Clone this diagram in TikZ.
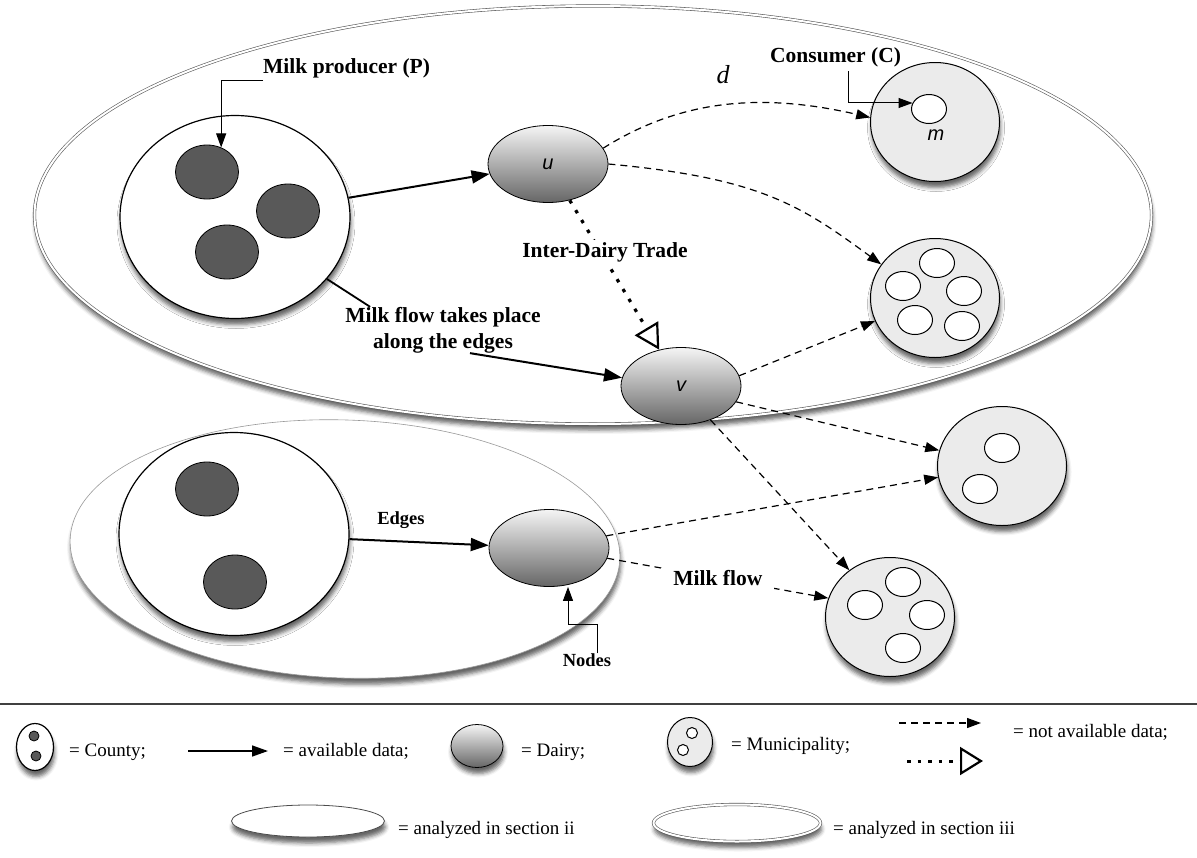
\documentclass[tikz,border=0pt]{standalone}
\usepackage{fontspec}
\setmainfont{Liberation Serif}
\newfontfamily\nodefont{Liberation Sans}
\usetikzlibrary{positioning,shapes.geometric,arrows.meta,shadows.blur}

\tikzset{
  soft/.style={blur shadow={shadow xshift=1pt,shadow yshift=-6pt,shadow blur radius=4pt,shadow opacity=60}},
  county/.style={ellipse,draw,line width=1.2pt,fill=white,minimum width=230pt,minimum height=203pt,inner sep=0pt,soft},
  producer/.style={ellipse,draw,line width=0.8pt,fill=black!65,minimum width=63pt,minimum height=54pt,inner sep=0pt},
  dairy/.style={ellipse,draw,line width=0.8pt,top color=black!4,bottom color=black!60,minimum width=120pt,minimum height=77pt,inner sep=0pt,font=\nodefont\itshape\fontsize{20}{24}\selectfont},
  muni/.style={ellipse,draw,line width=1pt,fill=black!8,minimum width=129pt,minimum height=119pt,inner sep=0pt,soft},
  cons/.style={ellipse,draw,line width=1pt,fill=white,minimum width=35pt,minimum height=29pt,inner sep=0pt},
  lbl/.style={font=\bfseries\fontsize{21.5}{26}\selectfont,inner sep=0pt},
  small lbl/.style={font=\bfseries\fontsize{18.5}{22}\selectfont,inner sep=0pt},
  legend/.style={font=\fontsize{19}{23}\selectfont,anchor=base west,inner sep=0pt},
  flow/.style={line width=2pt,-{Triangle[length=18pt,width=13pt]}},
  lead/.style={line width=1pt,-{Triangle[length=14pt,width=10pt]}},
  nodata/.style={line width=1.2pt,dash pattern=on 7pt off 5pt,-{Triangle[length=14pt,width=10pt]}},
  trade/.style={line width=3.2pt,dash pattern=on 3.5pt off 8pt,-{Triangle[open,length=25pt,width=27pt,line width=2.2pt]}},
  section two/.style={ellipse,draw=black!40,line width=0.6pt,fill=white,soft},
  section three/.style={ellipse,draw=black!65,line width=0.6pt,double=white,double distance=2pt,fill=white,soft}
}

\begin{document}
\begin{tikzpicture}[x=1pt,y=-1pt]
\useasboundingbox (0,0) rectangle (1197,857);

\node[section three,minimum width=1117pt,minimum height=418pt] (secthree) at (593,215) {};
\node[section two,minimum width=550pt,minimum height=258pt,rotate=-2] (sectwo) at (345,549) {};

\node[county] (ucounty) at (235,217) {};
\node[producer] (p1) at (207,172) {};
\node[producer] (p2) at (288,211) {};
\node[producer] (p3) at (227,252) {};

\node[county] (lcounty) at (234,534) {};
\node[producer] (p4) at (207,489) {};
\node[producer] (p5) at (235,582) {};

\node[dairy] (u) at (548,164) {u};
\node[dairy] (v) at (681,386) {v};
\node[dairy] (ldairy) at (549,548) {};

\node[muni] (cons) at (935,122) {};
\node[cons] (mc) at (929,109) {};
\node[font=\nodefont\itshape\fontsize{20}{24}\selectfont] (mlbl) at (936,135) {m};

\node[muni] (m5) at (935,298) {};
\foreach \p [count=\i] in {(937,263),(903,286),(964,291),(915,320),(962,326)}
  \node[cons] (m5-\i) at \p {};
\node[muni] (m2) at (1002,466) {};
\foreach \p [count=\i] in {(1002,448),(980,489)}
  \node[cons] (m2-\i) at \p {};
\node[muni] (m4) at (890,617) {};
\foreach \p [count=\i] in {(903,582),(865,605),(927,615),(903,648)}
  \node[cons] (m4-\i) at \p {};

\node[lbl,anchor=base west] (prodtxt) at (263,73) {Milk producer (P)};
\node[lbl,anchor=base west] (constxt) at (770,62) {Consumer (C)};
\node[font=\itshape\fontsize{26}{30}\selectfont] (dlbl) at (723,75) {d};
\node[lbl,align=center] (flowtxt) at (443,330) {Milk flow takes place\\along the edges};
\node[small lbl] (nodestxt) at (587,660) {Nodes};

\draw[lead] ([yshift=-7pt]prodtxt.base west) -| (p1.60);
\draw[lead] ([xshift=78pt,yshift=-9pt]constxt.base west) |- (mc.160);
\draw[lead] ([xshift=10pt]nodestxt.north) -- ++(0,-29) -| ([xshift=19pt]ldairy.south);

\draw[flow] (ucounty) -- (u);
\draw[line width=1.8pt] (ucounty.-34) -- ([xshift=25pt]flowtxt.north west);
\draw[flow] ([xshift=27pt]flowtxt.south) -- (v.172);
\draw[flow] (lcounty) -- node[small lbl,pos=0.37,above=12pt] (edgetxt) {Edges} (ldairy);

\draw[trade] (u) -- (v);
\node[lbl,fill=white,inner sep=2pt,anchor=base] (tradetxt) at (605,257) {Inter-Dairy Trade};

\draw[nodata] (u.16) .. controls (680,100) and (760,92) .. (cons.176);
\draw[nodata] (u.east) .. controls (760,178) and (800,205) .. (m5.148);
\draw[nodata] (v.10) -- (m5.201);
\draw[nodata] (v.-16) -- (m2.166);
\draw[nodata] (v.-49) -- (m4.131);
\draw[nodata] (ldairy.12) -- (m2.190);
\draw[nodata] (ldairy.-10) -- node[lbl,fill=white,inner xsep=12pt,inner ysep=3pt] (flowlbl) {Milk flow} (m4.163);

% legend
\draw[line width=1.5pt,black!75] (0,704) -- (1197,704);

\node[ellipse,draw,line width=1.2pt,fill=white,minimum width=37pt,minimum height=47pt,inner sep=0pt,soft] (lgcounty) at (35,747) {};
\node[producer,minimum width=10pt,minimum height=10pt] (lgp1) at (34,736) {};
\node[producer,minimum width=10pt,minimum height=10pt] (lgp2) at (36,756) {};
\node[legend] (lgcountytxt) at (69,756) {= County;};

\coordinate (av1) at (188,751);
\coordinate (av2) at (268,751);
\draw[line width=1.5pt,-{Triangle[length=16pt,width=11pt]}] (av1) -- (av2);
\node[legend] (lgavtxt) at (283,756) {= available data;};

\node[dairy,minimum width=52pt,minimum height=43pt,soft] (lgdairy) at (477,746) {};
\node[legend] (lgdairytxt) at (521,756) {= Dairy;};

\node[muni,minimum width=45pt,minimum height=49pt] (lgmuni) at (690,742) {};
\node[cons,minimum width=11pt,minimum height=11pt] (lgm1) at (692,733) {};
\node[cons,minimum width=11pt,minimum height=11pt] (lgm2) at (683,750) {};
\node[legend] (lgmunitxt) at (731,750) {= Municipality;};

\coordinate (na1) at (899,723);
\coordinate (na2) at (981,723);
\coordinate (na3) at (907,761);
\coordinate (na4) at (983,761);
\draw[nodata] (na1) -- (na2);
\draw[line width=3pt,dash pattern=on 3.5pt off 7pt,-{Triangle[open,length=23pt,width=28pt,line width=2.2pt]}] (na3) -- (na4);
\node[legend] (lgnatxt) at (1013,737) {= not available data;};

\node[section two,draw=black!70,line width=0.8pt,minimum width=153pt,minimum height=32pt] (lgtwo) at (308,821) {};
\node[legend] (lgtwotxt) at (398,834) {= analyzed in section ii};
\node[section three,minimum width=167pt,minimum height=37pt] (lgthree) at (737,823) {};
\node[legend] (lgthreetxt) at (833,834) {= analyzed in section iii};
\end{tikzpicture}
\end{document}
